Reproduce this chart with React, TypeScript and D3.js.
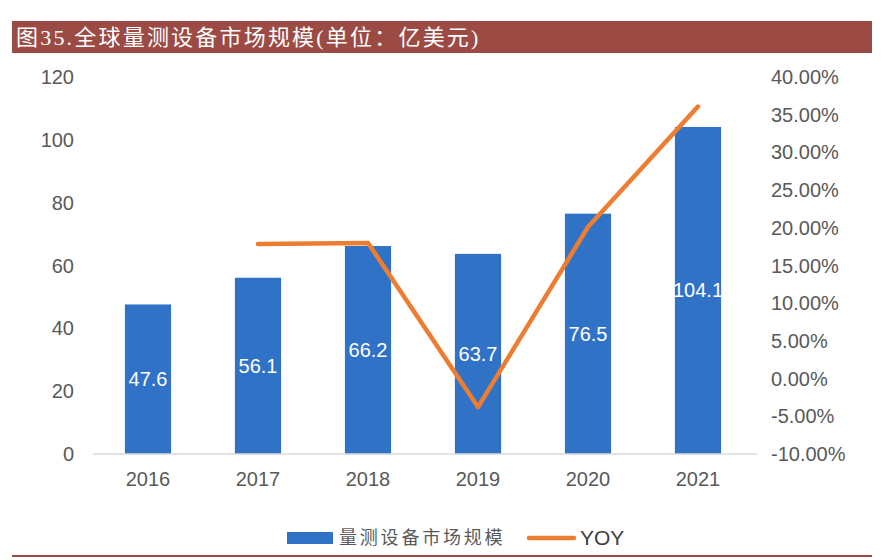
import React from "react";
import * as d3 from "d3";

const categories = ["2016", "2017", "2018", "2019", "2020", "2021"];
const marketSize = [47.6, 56.1, 66.2, 63.7, 76.5, 104.1];
const yoy: (number | null)[] = [null, 0.1786, 0.18, -0.0378, 0.201, 0.3608];
const leftTicks = [0, 20, 40, 60, 80, 100, 120];
const rightTicks = [-0.1, -0.05, 0, 0.05, 0.1, 0.15, 0.2, 0.25, 0.3, 0.35, 0.4];

const W = 884;
const H = 560;
const plotLeft = 93;
const plotRight = 753;
const plotTop = 77;
const plotBottom = 454;

export default function App() {
  const x = d3.scaleBand<string>().domain(categories).range([plotLeft, plotRight]).paddingInner(0.58).paddingOuter(0.29);
  const yL = d3.scaleLinear().domain([0, 120]).range([plotBottom, plotTop]);
  const yR = d3.scaleLinear().domain([-0.1, 0.4]).range([plotBottom, plotTop]);
  const cx = (c: string) => (x(c) as number) + x.bandwidth() / 2;

  const linePts = categories
    .map((c, i) => ({ c, v: yoy[i] }))
    .filter((d) => d.v !== null) as { c: string; v: number }[];
  const line = d3
    .line<{ c: string; v: number }>()
    .x((d) => cx(d.c))
    .y((d) => yR(d.v));

  const axisFont = "'Liberation Sans', Arial, sans-serif";
  const cjkSerif = "'Liberation Serif', 'Noto Sans CJK SC', serif";

  return (
    <svg width={W} height={H} style={{ position: "absolute", left: 0, top: 0 }}>
      <rect x={0} y={0} width={W} height={H} fill="#ffffff" />
      {/* title bar */}
      <rect x={12} y={21} width={860} height={32} fill="#9C4B44" />
      <text x={16} y={45} fill="#ffffff" fontSize={22} letterSpacing={2.2} fontFamily={cjkSerif}>
        图35.全球量测设备市场规模(单位：亿美元)
      </text>

      {/* bars */}
      {categories.map((c, i) => (
        <g key={c}>
          <rect
            x={x(c)}
            y={yL(marketSize[i])}
            width={x.bandwidth()}
            height={plotBottom - yL(marketSize[i])}
            fill="#3072C5"
          />
          <text
            x={cx(c)}
            y={(yL(marketSize[i]) + plotBottom) / 2}
            dy="0.35em"
            textAnchor="middle"
            fill="#ffffff"
            fontSize={20}
            fontFamily={axisFont}
          >
            {marketSize[i].toFixed(1)}
          </text>
        </g>
      ))}

      {/* x axis line */}
      <line x1={plotLeft} x2={757} y1={plotBottom} y2={plotBottom} stroke="#D9D9D9" strokeWidth={1.5} />

      {/* YOY line */}
      <path d={line(linePts) || ""} fill="none" stroke="#ED7D31" strokeWidth={4.5} strokeLinecap="round" strokeLinejoin="round" />

      {/* left axis labels */}
      {leftTicks.map((t) => (
        <text key={t} x={74} y={yL(t)} dy="0.35em" textAnchor="end" fill="#595959" fontSize={20} fontFamily={axisFont}>
          {t}
        </text>
      ))}

      {/* right axis labels */}
      {rightTicks.map((t) => (
        <text key={t} x={771} y={yR(t)} dy="0.35em" textAnchor="start" fill="#595959" fontSize={20} fontFamily={axisFont}>
          {(t * 100).toFixed(2) + "%"}
        </text>
      ))}

      {/* x labels */}
      {categories.map((c) => (
        <text key={c} x={cx(c)} y={479} dy="0.35em" textAnchor="middle" fill="#595959" fontSize={20} fontFamily={axisFont}>
          {c}
        </text>
      ))}

      {/* legend */}
      <rect x={287} y={532} width={46} height={12} fill="#3072C5" />
      <text x={339} y={538} dy="0.35em" fill="#595959" fontSize={18} letterSpacing={2.8} fontFamily={cjkSerif}>
        量测设备市场规模
      </text>
      <line x1={529} x2={574} y1={538} y2={538} stroke="#ED7D31" strokeWidth={4.5} strokeLinecap="round" />
      <text x={580} y={538} dy="0.35em" fill="#404040" fontSize={21} fontFamily={axisFont}>
        YOY
      </text>

      {/* bottom rule */}
      <line x1={12} x2={872} y1={556} y2={556} stroke="#9C4B44" strokeWidth={2} />
    </svg>
  );
}
